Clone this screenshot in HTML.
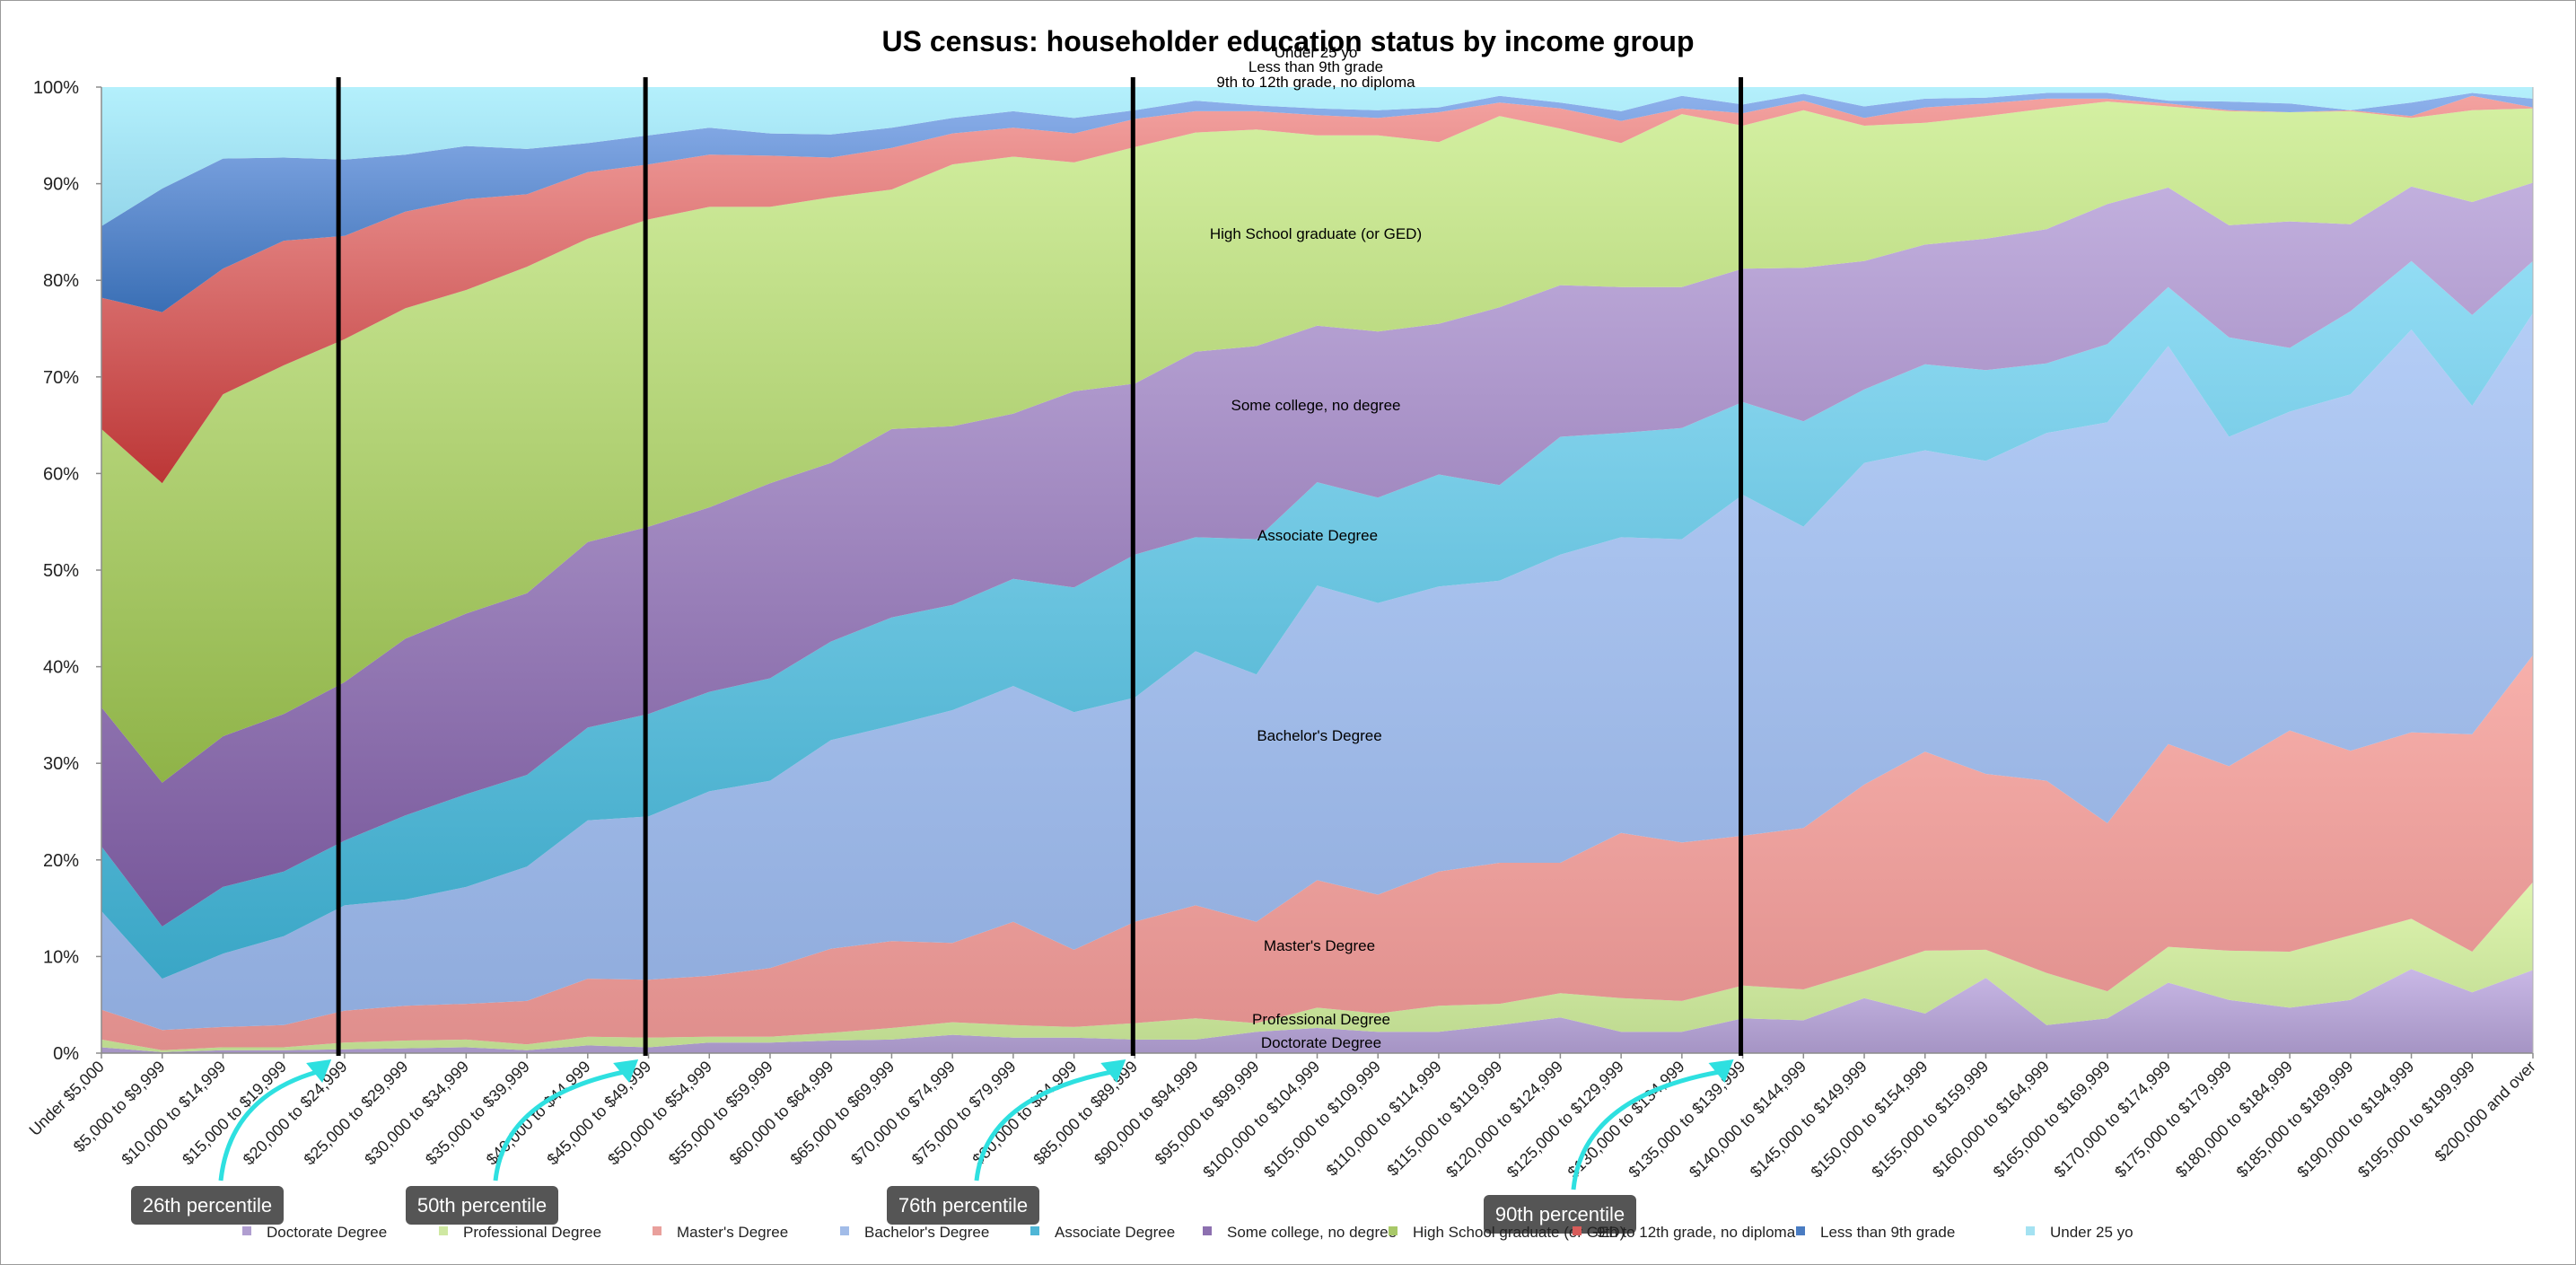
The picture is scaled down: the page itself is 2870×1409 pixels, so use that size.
<!DOCTYPE html>
<html><head><meta charset="utf-8"><title>US census: householder education status by income group</title>
<style>
html,body{margin:0;padding:0;background:#fff}
svg{display:block;font-family:"Liberation Sans",sans-serif}
</style></head>
<body>
<svg id="chart" width="2870" height="1409" viewBox="0 0 2870 1409" xmlns="http://www.w3.org/2000/svg">
<defs>
<linearGradient id="g-doc" x1="0" y1="0" x2="0" y2="1"><stop offset="0" stop-color="#c9b8e6"/><stop offset="1" stop-color="#a594c4"/></linearGradient>
<linearGradient id="g-prof" x1="0" y1="0" x2="0" y2="1"><stop offset="0" stop-color="#dff5b0"/><stop offset="1" stop-color="#bcd88e"/></linearGradient>
<linearGradient id="g-mast" x1="0" y1="0" x2="0" y2="1"><stop offset="0" stop-color="#f7b0ab"/><stop offset="1" stop-color="#df8e8c"/></linearGradient>
<linearGradient id="g-bach" x1="0" y1="0" x2="0" y2="1"><stop offset="0" stop-color="#b4cdf6"/><stop offset="1" stop-color="#8fabdc"/></linearGradient>
<linearGradient id="g-assoc" x1="0" y1="0" x2="0" y2="1"><stop offset="0" stop-color="#92dcf4"/><stop offset="1" stop-color="#3aa6c6"/></linearGradient>
<linearGradient id="g-some" x1="0" y1="0" x2="0" y2="1"><stop offset="0" stop-color="#c2b0de"/><stop offset="1" stop-color="#77579a"/></linearGradient>
<linearGradient id="g-hs" x1="0" y1="0" x2="0" y2="1"><stop offset="0" stop-color="#d4f0a2"/><stop offset="1" stop-color="#8fb348"/></linearGradient>
<linearGradient id="g-nine" x1="0" y1="0" x2="0" y2="1"><stop offset="0" stop-color="#f3a2a0"/><stop offset="1" stop-color="#bc3636"/></linearGradient>
<linearGradient id="g-less" x1="0" y1="0" x2="0" y2="1"><stop offset="0" stop-color="#8eb1ec"/><stop offset="1" stop-color="#3a6fb5"/></linearGradient>
<linearGradient id="g-u25" x1="0" y1="0" x2="0" y2="1"><stop offset="0" stop-color="#b4f0fc"/><stop offset="1" stop-color="#94d6ea"/></linearGradient>
</defs>
<rect x="0.5" y="0.5" width="2869" height="1408" fill="#fff" stroke="#9a9a9a"/>
<text x="1435" y="57" text-anchor="middle" font-size="32" font-weight="bold" fill="#000">US census: householder education status by income group</text>
<g id="areas"></g>
<g id="axes"></g>
<g id="labels" font-size="17" fill="#000" text-anchor="middle">
<text x="1466" y="64">Under 25 yo</text>
<text x="1466" y="80">Less than 9th grade</text>
<text x="1466" y="97">9th to 12th grade, no diploma</text>
<text x="1466" y="266">High School graduate (or GED)</text>
<text x="1466" y="457">Some college, no degree</text>
<text x="1468" y="602">Associate Degree</text>
<text x="1470" y="825">Bachelor's Degree</text>
<text x="1470" y="1059">Master's Degree</text>
<text x="1472" y="1141">Professional Degree</text>
<text x="1472" y="1167">Doctorate Degree</text>
</g>
<g id="percentiles"></g>
<g id="legend" font-size="17" fill="#222"></g>
</svg>
<script>
const categories = ["Under $5,000","$5,000 to $9,999","$10,000 to $14,999","$15,000 to $19,999","$20,000 to $24,999","$25,000 to $29,999","$30,000 to $34,999","$35,000 to $39,999","$40,000 to $44,999","$45,000 to $49,999","$50,000 to $54,999","$55,000 to $59,999","$60,000 to $64,999","$65,000 to $69,999","$70,000 to $74,999","$75,000 to $79,999","$80,000 to $84,999","$85,000 to $89,999","$90,000 to $94,999","$95,000 to $99,999","$100,000 to $104,999","$105,000 to $109,999","$110,000 to $114,999","$115,000 to $119,999","$120,000 to $124,999","$125,000 to $129,999","$130,000 to $134,999","$135,000 to $139,999","$140,000 to $144,999","$145,000 to $149,999","$150,000 to $154,999","$155,000 to $159,999","$160,000 to $164,999","$165,000 to $169,999","$170,000 to $174,999","$175,000 to $179,999","$180,000 to $184,999","$185,000 to $189,999","$190,000 to $194,999","$195,000 to $199,999","$200,000 and over"];
// cumulative top (%) of each stacked series
const cumDoctorate = [0.6,0.1,0.3,0.3,0.4,0.5,0.6,0.3,0.8,0.6,1.1,1.1,1.3,1.4,1.9,1.6,1.6,1.4,1.4,2.2,2.6,2.2,2.2,2.9,3.7,2.2,2.2,3.6,3.4,5.7,4.1,7.8,2.9,3.6,7.3,5.5,4.7,5.5,8.7,6.3,8.6];
const cumProfessional = [1.4,0.3,0.6,0.6,1.1,1.3,1.4,0.9,1.7,1.6,1.7,1.7,2.1,2.6,3.2,2.9,2.7,3.1,3.6,3.1,4.7,4.1,4.9,5.1,6.2,5.7,5.4,7,6.6,8.5,10.6,10.7,8.3,6.4,11,10.6,10.5,12.2,13.9,10.5,17.7];
const cumMasters = [4.5,2.4,2.7,2.9,4.4,4.9,5.1,5.4,7.7,7.6,8,8.8,10.8,11.6,11.4,13.6,10.7,13.6,15.3,13.6,17.9,16.4,18.8,19.7,19.7,22.8,21.8,22.5,23.3,27.8,31.2,28.9,28.2,23.8,32,29.7,33.4,31.3,33.2,33,41.2];
const cumBachelors = [14.7,7.7,10.3,12.1,15.3,15.9,17.2,19.3,24.1,24.5,27.1,28.2,32.4,33.9,35.5,38,35.3,36.8,41.6,39.2,48.4,46.6,48.3,48.9,51.6,53.4,53.2,57.8,54.5,61.1,62.4,61.3,64.2,65.3,73.2,63.8,66.4,68.2,74.9,67,76.6];
const cumAssociate = [21.4,13.1,17.2,18.8,22,24.6,26.8,28.8,33.7,35.1,37.4,38.8,42.6,45.1,46.4,49.1,48.2,51.6,53.4,53.2,59.1,57.5,59.9,58.8,63.8,64.2,64.7,67.4,65.4,68.7,71.3,70.7,71.4,73.4,79.3,74.1,73,76.8,82,76.4,82];
const cumSomeCollege = [35.8,28,32.8,35.1,38.4,42.9,45.5,47.6,52.9,54.5,56.5,59,61.1,64.6,64.9,66.2,68.5,69.3,72.6,73.2,75.3,74.7,75.5,77.2,79.5,79.3,79.3,81.2,81.3,82,83.7,84.3,85.3,87.9,89.6,85.7,86.1,85.8,89.7,88.1,90.1];
const cumHighSchool = [64.6,59,68.2,71.2,73.9,77.1,79,81.4,84.3,86.3,87.6,87.6,88.6,89.4,92,92.8,92.2,93.8,95.3,95.6,95,95,94.3,97,95.7,94.2,97.2,96,97.6,96,96.3,97,97.8,98.5,98,97.5,97.4,97.5,96.8,97.6,97.8];
const cumNinthTo12th = [78.2,76.7,81.2,84.1,84.6,87.1,88.4,88.9,91.2,92,93,92.9,92.7,93.7,95.2,95.8,95.2,96.7,97.5,97.5,97.1,96.8,97.4,98.4,97.8,96.5,97.8,97.3,98.6,96.8,97.9,98.3,98.8,98.8,98.3,97.6,97.4,97.6,97,99.1,97.9];
const cumLessThan9th = [85.6,89.5,92.6,92.7,92.5,93,93.9,93.6,94.2,95,95.8,95.2,95.1,95.8,96.8,97.5,96.8,97.6,98.6,98.1,97.8,97.6,97.9,99.1,98.4,97.5,99.1,98.2,99.3,98,98.8,98.9,99.4,99.4,98.6,98.5,98.3,97.6,98.4,99.4,98.8];
const cumUnder25 = categories.map(() => 100);
const yTicks = ["0%","10%","20%","30%","40%","50%","60%","70%","80%","90%","100%"];
const seriesNames = ["Doctorate Degree","Professional Degree","Master's Degree","Bachelor's Degree","Associate Degree","Some college, no degree","High School graduate (or GED)","9th to 12th grade, no diploma","Less than 9th grade","Under 25 yo"];
const percentileLabels = ["26th percentile","50th percentile","76th percentile","90th percentile"];
const percentilePositions = [3.9, 8.95, 16.97, 26.97]; // category index of the marker lines

const NS = "http://www.w3.org/2000/svg";
const X0 = 113, X1 = 2822, Y0 = 1173, Y100 = 97;
const xScale = i => X0 + i * (X1 - X0) / (categories.length - 1);
const yScale = v => Y0 - v * (Y0 - Y100) / 100;
function mk(tag, attrs, parent) { const e = document.createElementNS(NS, tag); for (const k in attrs) e.setAttribute(k, attrs[k]); parent.appendChild(e); return e; }

const stacks = [cumDoctorate,cumProfessional,cumMasters,cumBachelors,cumAssociate,cumSomeCollege,cumHighSchool,cumNinthTo12th,cumLessThan9th,cumUnder25];
const fills = ["g-doc","g-prof","g-mast","g-bach","g-assoc","g-some","g-hs","g-nine","g-less","g-u25"];
const legendSwatch = ["#b09ed0","#cfe8a2","#e9a09c","#a2bce8","#4fb6d6","#8d70b0","#a8c868","#d85c5a","#4a7cc2","#a4e2f2"];
const areaG = document.getElementById("areas");
stacks.forEach((top, s) => {
  const bottom = s === 0 ? categories.map(() => 0) : stacks[s - 1];
  let pts = top.map((v, i) => xScale(i).toFixed(1) + "," + yScale(v).toFixed(1));
  for (let i = categories.length - 1; i >= 0; i--) pts.push(xScale(i).toFixed(1) + "," + yScale(bottom[i]).toFixed(1));
  const p = mk("polygon", {points: pts.join(" "), fill: "url(#" + fills[s] + ")"}, areaG);
  
  
});

const axG = document.getElementById("axes");
const yAxis = mk("line", {x1: X0, y1: Y100, x2: X0, y2: Y0, stroke: "#8c8c8c", "stroke-width": 1.5}, axG);


const xAxis = mk("line", {x1: X0, y1: Y0, x2: X1, y2: Y0, stroke: "#8c8c8c", "stroke-width": 1.5}, axG);


const rAxis = mk("line", {x1: X1, y1: Y100, x2: X1, y2: Y0, stroke: "#b0b0b0", "stroke-width": 1}, axG);


yTicks.forEach((t, k) => {
  const y = yScale(k * 10);
  const tk = mk("line", {x1: X0 - 6, y1: y, x2: X0, y2: y, stroke: "#8c8c8c", "stroke-width": 1.5}, axG);
  
  
  const tx = mk("text", {x: X0 - 25, y: y + 7, "text-anchor": "end", "font-size": 20, fill: "#222"}, axG);
  tx.textContent = t;
  
  
});
categories.forEach((c, i) => {
  const x = xScale(i);
  const tk = mk("line", {x1: x, y1: Y0, x2: x, y2: Y0 + 6, stroke: "#8c8c8c", "stroke-width": 1.5}, axG);
  
  
  const tx = mk("text", {x: x + 4, y: Y0 + 16, "text-anchor": "end", "font-size": 18, fill: "#222", transform: "rotate(-45 " + (x + 4) + " " + (Y0 + 16) + ")"}, axG);
  tx.textContent = c;
  
  
});

const pG = document.getElementById("percentiles");
const boxX = [146, 452, 988, 1653], boxY = [1321, 1321, 1321, 1331];
percentilePositions.forEach((pos, k) => {
  const lx = xScale(pos);
  const ln = mk("line", {x1: lx, y1: 86, x2: lx, y2: 1176, stroke: "#000", "stroke-width": 5}, pG);
  
  
  const bx = boxX[k], by = boxY[k];
  const ax = bx + 100, ay = by - 6, tx = lx - 14, ty = 1182;
  const arr = mk("path", {d: "M" + ax + "," + ay + " Q" + (ax + 10) + "," + (ty + 40) + " " + (tx - 10) + "," + (ty + 12), fill: "none", stroke: "#2ee0e0", "stroke-width": 5}, pG);
  
  
  const hd = mk("polygon", {points: (tx + 6) + "," + (ty - 2) + " " + (tx - 22) + "," + (ty + 2) + " " + (tx - 4) + "," + (ty + 24), fill: "#2ee0e0"}, pG);
  
  
  const r = mk("rect", {x: bx, y: by, width: 170, height: 43, rx: 6, fill: "#555555"}, pG);
  
  
  const t = mk("text", {x: bx + 85, y: by + 29, "text-anchor": "middle", "font-size": 22, fill: "#fff"}, pG);
  t.textContent = percentileLabels[k];
  
  
});

const lg = document.getElementById("legend");
const legX = [275, 494, 732, 941, 1153, 1345, 1552, 1757, 2006, 2262];
seriesNames.forEach((n, k) => {
  const sw = mk("rect", {x: legX[k] - 5, y: 1366, width: 10, height: 10, fill: legendSwatch[k]}, lg);
  
  
  const t = mk("text", {x: legX[k] + 22, y: 1378, "font-size": 17, fill: "#222"}, lg);
  t.textContent = n;
  
  
});
</script>
</body></html>
